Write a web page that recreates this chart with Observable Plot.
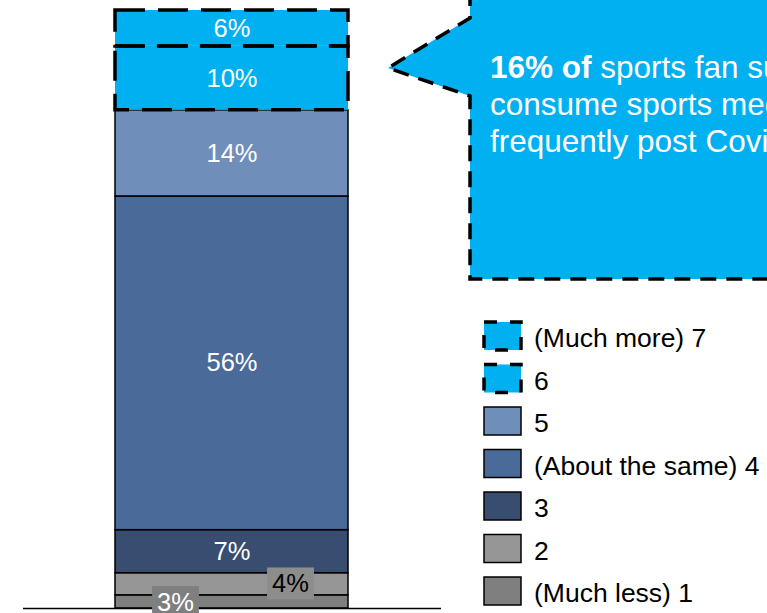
<!DOCTYPE html>
<html><head><meta charset="utf-8">
<script src="https://cdn.jsdelivr.net/npm/d3@7"></script>
<script src="https://cdn.jsdelivr.net/npm/@observablehq/plot@0.6"></script>
<style>html,body{margin:0;padding:0;background:#fff;overflow:hidden;} svg{display:block}</style>
</head><body><div id="chart"></div>
<script>
// ---- data ----
const categories = ["(Much less) 1", "2", "3", "(About the same) 4", "5", "6", "(Much more) 7"];
const values = [2.2, 3.7, 7.2, 55.8, 14.4, 10.7, 6.0];   // segment sizes as drawn
const labels = ["3%", "4%", "7%", "56%", "14%", "10%", "6%"];
const colors = ["#7f7f7f", "#969696", "#384d6f", "#4a6a9a", "#6f8eba", "#00b0f0", "#00b0f0"];
const dashed = [false, false, false, false, false, true, true];
const calloutBold = "16% of";
const calloutLines = [" sports fan survey respondents", "consume sports media more", "frequently post Covid-19"];

const data = categories.map((c, i) => ({category: c, value: values[i], color: colors[i], dashed: dashed[i], label: labels[i], idx: i}));

const FONT = "'Liberation Sans', Arial, Helvetica, sans-serif";
const bar = () => "All";

const plot = Plot.plot({
  width: 767, height: 613,
  marginTop: 10, marginBottom: 5, marginLeft: 23, marginRight: 326,
  x: {domain: ["All"], range: [115, 348], padding: 0, axis: null},
  y: {domain: [0, 100], axis: null},
  color: {type: "identity"},
  style: {fontFamily: FONT, background: "white"},
  marks: [
    Plot.barY(data, {x: bar, y: "value", fill: "color", stroke: d => d.dashed ? "none" : "#000", strokeWidth: 1.5}),
    Plot.barY(data, {x: bar, y: "value", fill: "none", stroke: d => d.dashed ? "#000" : "none", strokeWidth: 3.5, strokeDasharray: "30,13"}),
    Plot.ruleY([0], {stroke: "#000", strokeWidth: 1.5}),
    Plot.text(data, Plot.stackY({x: bar, y: "value", text: d => d.idx >= 2 ? d.label : "", fill: "white", fontSize: 25.5})),
    Plot.text(data, Plot.stackY({x: bar, y: "value", text: d => d.idx === 0 ? d.label : "", fill: "white", fontSize: 25.5, dx: -56.5, dy: 1})),
    Plot.text(data, Plot.stackY({x: bar, y: "value", text: d => d.idx === 1 ? d.label : "", fill: "black", fontSize: 25.5, dx: 58.5, dy: 0}))
  ]
});
document.getElementById("chart").append(plot);
const svg = d3.select(plot);

// background boxes behind the two small labels
const boxFill = {[labels[0]]: "#7f7f7f", [labels[1]]: "#8d8d8d"};
svg.selectAll("text").each(function() {
  const bg = boxFill[this.textContent];
  if (!bg) return;
  const b = this.getBBox();
  const cy = b.y + b.height / 2;
  const r = document.createElementNS("http://www.w3.org/2000/svg", "rect");
  r.setAttribute("x", b.x - 5);
  r.setAttribute("width", b.width + 10);
  r.setAttribute("y", cy - 16);
  r.setAttribute("height", 32);
  r.setAttribute("fill", bg);
  const t = this.getAttribute("transform");
  if (t) r.setAttribute("transform", t);
  this.parentNode.insertBefore(r, this);
});

// callout
const cg = svg.append("g").attr("text-anchor", "start");
cg.append("path")
  .attr("d", "M470,-10 L470,18 L388,68 L470,96 L470,279 L800,279 L800,-10 Z")
  .attr("fill", "#00b0f0").attr("stroke", "#000").attr("stroke-width", 3.5)
  .attr("stroke-dasharray", "16,10");
const ct = cg.append("text").attr("font-family", FONT).attr("font-size", 31.5).attr("fill", "white").attr("text-anchor", "start");
const l1 = ct.append("tspan").attr("x", 490).attr("y", 78);
l1.append("tspan").attr("font-weight", "bold").text(calloutBold);
l1.append("tspan").text(calloutLines[0]);
ct.append("tspan").attr("x", 490).attr("y", 115).text(calloutLines[1]);
ct.append("tspan").attr("x", 490).attr("y", 152).text(calloutLines[2]);

// legend
const lg = svg.append("g").attr("text-anchor", "start");
const order = d3.range(categories.length).reverse();
order.forEach((ci, row) => {
  const y0 = 322 + row * 42.5;
  lg.append("rect").attr("x", 484).attr("y", y0).attr("width", 37).attr("height", 28)
    .attr("fill", colors[ci]).attr("stroke", "#000")
    .attr("stroke-width", dashed[ci] ? 3.5 : 1.5)
    .attr("stroke-dasharray", dashed[ci] ? "13,13" : null);
  lg.append("text").attr("x", 534).attr("y", y0 + 25).attr("text-anchor", "start")
    .attr("font-family", FONT).attr("font-size", 26.5).attr("fill", "#000")
    .text(categories[ci]);
});
</script>
</body></html>
